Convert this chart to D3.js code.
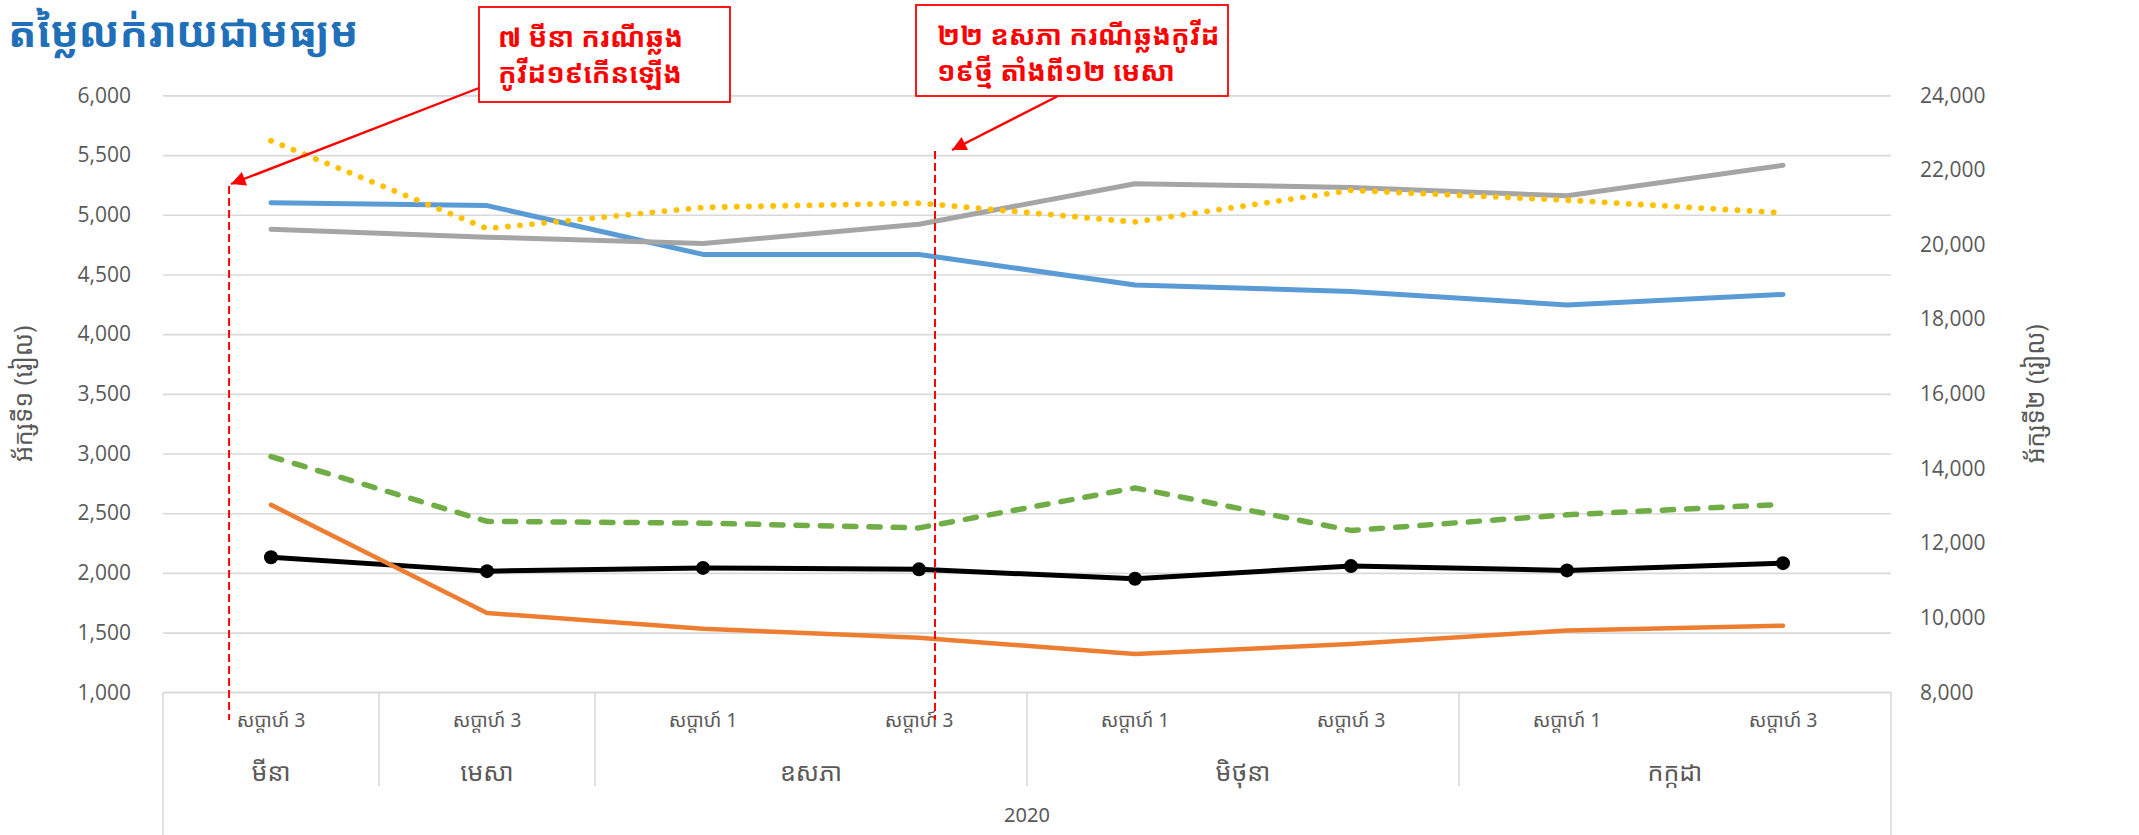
<!DOCTYPE html>
<html>
<head>
<meta charset="utf-8">
<script src="https://cdn.jsdelivr.net/npm/d3@7"></script>
<style>
  body { margin: 0; background: #fff; }
  text { font-family: "Noto Sans Khmer", "Khmer OS", "Noto Sans", sans-serif; }
</style>
</head>
<body>
<svg id="chart"></svg>
<script>
const width = 2139;
const height = 835;

// categories (weeks / months / year)
const weeks = ["សប្តាហ៍ 3", "សប្តាហ៍ 3", "សប្តាហ៍ 1", "សប្តាហ៍ 3", "សប្តាហ៍ 1", "សប្តាហ៍ 3", "សប្តាហ៍ 1", "សប្តាហ៍ 3"];
const months = ["មីនា", "មេសា", "ឧសភា", "ឧសភា", "មិថុនា", "មិថុនា", "កក្កដា", "កក្កដា"];
const year = "2020";

// series on axis 1 (left)
const blueVals   = [5100, 5077, 4668, 4668, 4412, 4358, 4245, 4333];
const orangeVals = [2570, 1664, 1533, 1457, 1320, 1405, 1518, 1558];
const greenVals  = [2975, 2432, 2417, 2377, 2712, 2356, 2487, 2575];
const blackVals  = [2131, 2015, 2042, 2030, 1951, 2057, 2021, 2082];
// series on axis 2 (right)
const grayVals   = [20410, 20200, 20032, 20548, 21631, 21533, 21309, 22128];
const yellowVals = [22786, 20431, 20997, 21114, 20607, 21455, 21192, 20850];

const leftTicks = d3.range(1000, 6001, 500);
const rightTicks = d3.range(8000, 24001, 2000);

const title = "តម្លៃលក់រាយជាមធ្យម";
const leftTitle = "អ័ក្សទី១ (រៀល)";
const rightTitle = "អ័ក្សទី២ (រៀល)";

// annotations: position as fractional category index
const notes = [
    { at: -0.194, lines: ["៧ មីនា ករណីឆ្លង", "កូវីដ១៩កើនឡើង"] },
    { at: 3.074, lines: ["២២ ឧសភា ករណីឆ្លងកូវីដ", "១៩ថ្មី តាំងពី១២ មេសា"] }
];

const plot = { left: 163, right: 1891, top: 95.4, bottom: 692.3 };

const svg = d3.select("#chart")
    .attr("width", width)
    .attr("height", height);

const x = d3.scaleBand()
    .domain(d3.range(weeks.length))
    .range([plot.left, plot.right])
    .padding(0);
const xc = i => x(i) + x.bandwidth() / 2;
const xi = f => plot.left + (f + 0.5) * x.bandwidth();

const yL = d3.scaleLinear().domain([1000, 6000]).range([plot.bottom, plot.top]);
const yR = d3.scaleLinear().domain([8000, 24000]).range([plot.bottom, plot.top]);

// gridlines
svg.append("g")
    .attr("transform", `translate(${plot.left},0)`)
    .call(d3.axisLeft(yL).tickValues(leftTicks).tickSize(-(plot.right - plot.left)).tickFormat(""))
    .call(g => g.select(".domain").remove())
    .call(g => g.selectAll("line").attr("stroke", "#d9d9d9").attr("stroke-width", 1.6));

// left axis labels
svg.append("g")
    .attr("transform", `translate(${plot.left - 29},0)`)
    .call(d3.axisLeft(yL).tickValues(leftTicks).tickSize(0).tickFormat(d3.format(",")))
    .call(g => g.select(".domain").remove())
    .call(g => g.selectAll("text")
        .attr("fill", "#595959")
        .style("font-family", "'Open Sans', sans-serif")
        .style("font-size", "21px"));

// right axis labels
svg.append("g")
    .attr("transform", `translate(${plot.right + 26},0)`)
    .call(d3.axisRight(yR).tickValues(rightTicks).tickSize(0).tickFormat(d3.format(",")))
    .call(g => g.select(".domain").remove())
    .call(g => g.selectAll("text")
        .attr("fill", "#595959")
        .style("font-family", "'Open Sans', sans-serif")
        .style("font-size", "21px"));

// multi-level category axis
const axisG = svg.append("g");
axisG.append("line")
    .attr("x1", plot.left).attr("x2", plot.right)
    .attr("y1", plot.bottom).attr("y2", plot.bottom)
    .attr("stroke", "#d9d9d9").attr("stroke-width", 1.6);

const groups = [];
months.forEach((m, i) => {
    if (groups.length && groups[groups.length - 1].name === m) groups[groups.length - 1].end = i;
    else groups.push({ name: m, start: i, end: i });
});
const bounds = [0].concat(groups.map(g => g.end + 1));
axisG.selectAll(".sep")
    .data(bounds)
    .join("line")
    .attr("x1", d => plot.left + d * x.bandwidth())
    .attr("x2", d => plot.left + d * x.bandwidth())
    .attr("y1", plot.bottom)
    .attr("y2", (d, i) => (i === 0 || i === bounds.length - 1) ? height : 786)
    .attr("stroke", "#d9d9d9").attr("stroke-width", 1.6);

axisG.selectAll(".week")
    .data(weeks)
    .join("text")
    .attr("x", (d, i) => xc(i))
    .attr("y", 727)
    .attr("text-anchor", "middle")
    .attr("fill", "#595959")
    .style("font-size", "19px")
    .text(d => d);

axisG.selectAll(".month")
    .data(groups)
    .join("text")
    .attr("x", d => (x(d.start) + x(d.end) + x.bandwidth()) / 2)
    .attr("y", 781)
    .attr("text-anchor", "middle")
    .attr("fill", "#595959")
    .style("font-size", "25px")
    .text(d => d.name);

axisG.append("text")
    .attr("x", (plot.left + plot.right) / 2)
    .attr("y", 822)
    .attr("text-anchor", "middle")
    .attr("fill", "#595959")
    .style("font-size", "20px")
    .text(year);

// axis titles
svg.append("text")
    .attr("transform", `translate(32,${(plot.top + plot.bottom) / 2}) rotate(-90)`)
    .attr("text-anchor", "middle")
    .attr("fill", "#595959")
    .style("font-size", "25px")
    .text(leftTitle);
svg.append("text")
    .attr("transform", `translate(2044,${(plot.top + plot.bottom) / 2}) rotate(-90)`)
    .attr("text-anchor", "middle")
    .attr("fill", "#595959")
    .style("font-size", "25px")
    .text(rightTitle);

// series
const series = [
    { vals: blackVals, y: yL, color: "#000000", w: 5, dash: null, marker: true },
    { vals: blueVals, y: yL, color: "#5b9bd5", w: 5, dash: null },
    { vals: greenVals, y: yL, color: "#70ad47", w: 5.5, dash: "11.2 13.1" },
    { vals: orangeVals, y: yL, color: "#ed7d31", w: 4.5, dash: null },
    { vals: grayVals, y: yR, color: "#a5a5a5", w: 5, dash: null },
    { vals: yellowVals, y: yR, color: "#ffc000", w: 5.8, dash: "0.1 12" }
];

series.forEach(s => {
    const line = d3.line().x((d, i) => xc(i)).y(d => s.y(d));
    svg.append("path")
        .datum(s.vals)
        .attr("d", line)
        .attr("fill", "none")
        .attr("stroke", s.color)
        .attr("stroke-width", s.w)
        .attr("stroke-linecap", "round")
        .attr("stroke-linejoin", "round")
        .attr("stroke-dasharray", s.dash);
    if (s.marker) {
        svg.selectAll(null)
            .data(s.vals)
            .join("circle")
            .attr("cx", (d, i) => xc(i))
            .attr("cy", d => s.y(d))
            .attr("r", 7)
            .attr("fill", s.color);
    }
});

// title
svg.append("text")
    .attr("x", 8)
    .attr("y", 47)
    .attr("fill", "#1f70b8")
    .style("font-size", "42px")
    .style("font-weight", "bold")
    .text(title);

// annotations
svg.append("defs").append("marker")
    .attr("id", "arrow")
    .attr("viewBox", "0 0 10 10")
    .attr("refX", 10).attr("refY", 5)
    .attr("markerWidth", 7).attr("markerHeight", 6)
    .attr("markerUnits", "strokeWidth")
    .attr("orient", "auto")
    .append("path")
    .attr("d", "M0,0L10,5L0,10Z")
    .attr("fill", "#ff0000");

const noteLayout = [
    { box: [479, 7, 251, 95], tx: 498, from: [479, 88], tip: [231, 184], top: 186 },
    { box: [916, 5, 312, 91], tx: 937, from: [1058, 96], tip: [952, 150], top: 151 }
];

notes.forEach((n, k) => {
    const L = noteLayout[k];
    const lx = xi(n.at);
    svg.append("line")
        .attr("x1", lx).attr("x2", lx)
        .attr("y1", L.top).attr("y2", 720)
        .attr("stroke", "#ff0000")
        .attr("stroke-width", 2)
        .attr("stroke-dasharray", "8 4");
    svg.append("rect")
        .attr("x", L.box[0]).attr("y", L.box[1])
        .attr("width", L.box[2]).attr("height", L.box[3])
        .attr("fill", "#fff")
        .attr("stroke", "#ff0000")
        .attr("stroke-width", 1.8);
    n.lines.forEach((t, j) => {
        svg.append("text")
            .attr("x", L.tx)
            .attr("y", L.box[1] + 40 + j * 36)
            .attr("fill", "#ff0000")
            .style("font-size", "27.5px")
            .style("font-weight", "bold")
            .text(t);
    });
    svg.append("line")
        .attr("x1", L.from[0]).attr("y1", L.from[1])
        .attr("x2", L.tip[0]).attr("y2", L.tip[1])
        .attr("stroke", "#ff0000")
        .attr("stroke-width", 2.4)
        .attr("marker-end", "url(#arrow)");
});
</script>
</body>
</html>
